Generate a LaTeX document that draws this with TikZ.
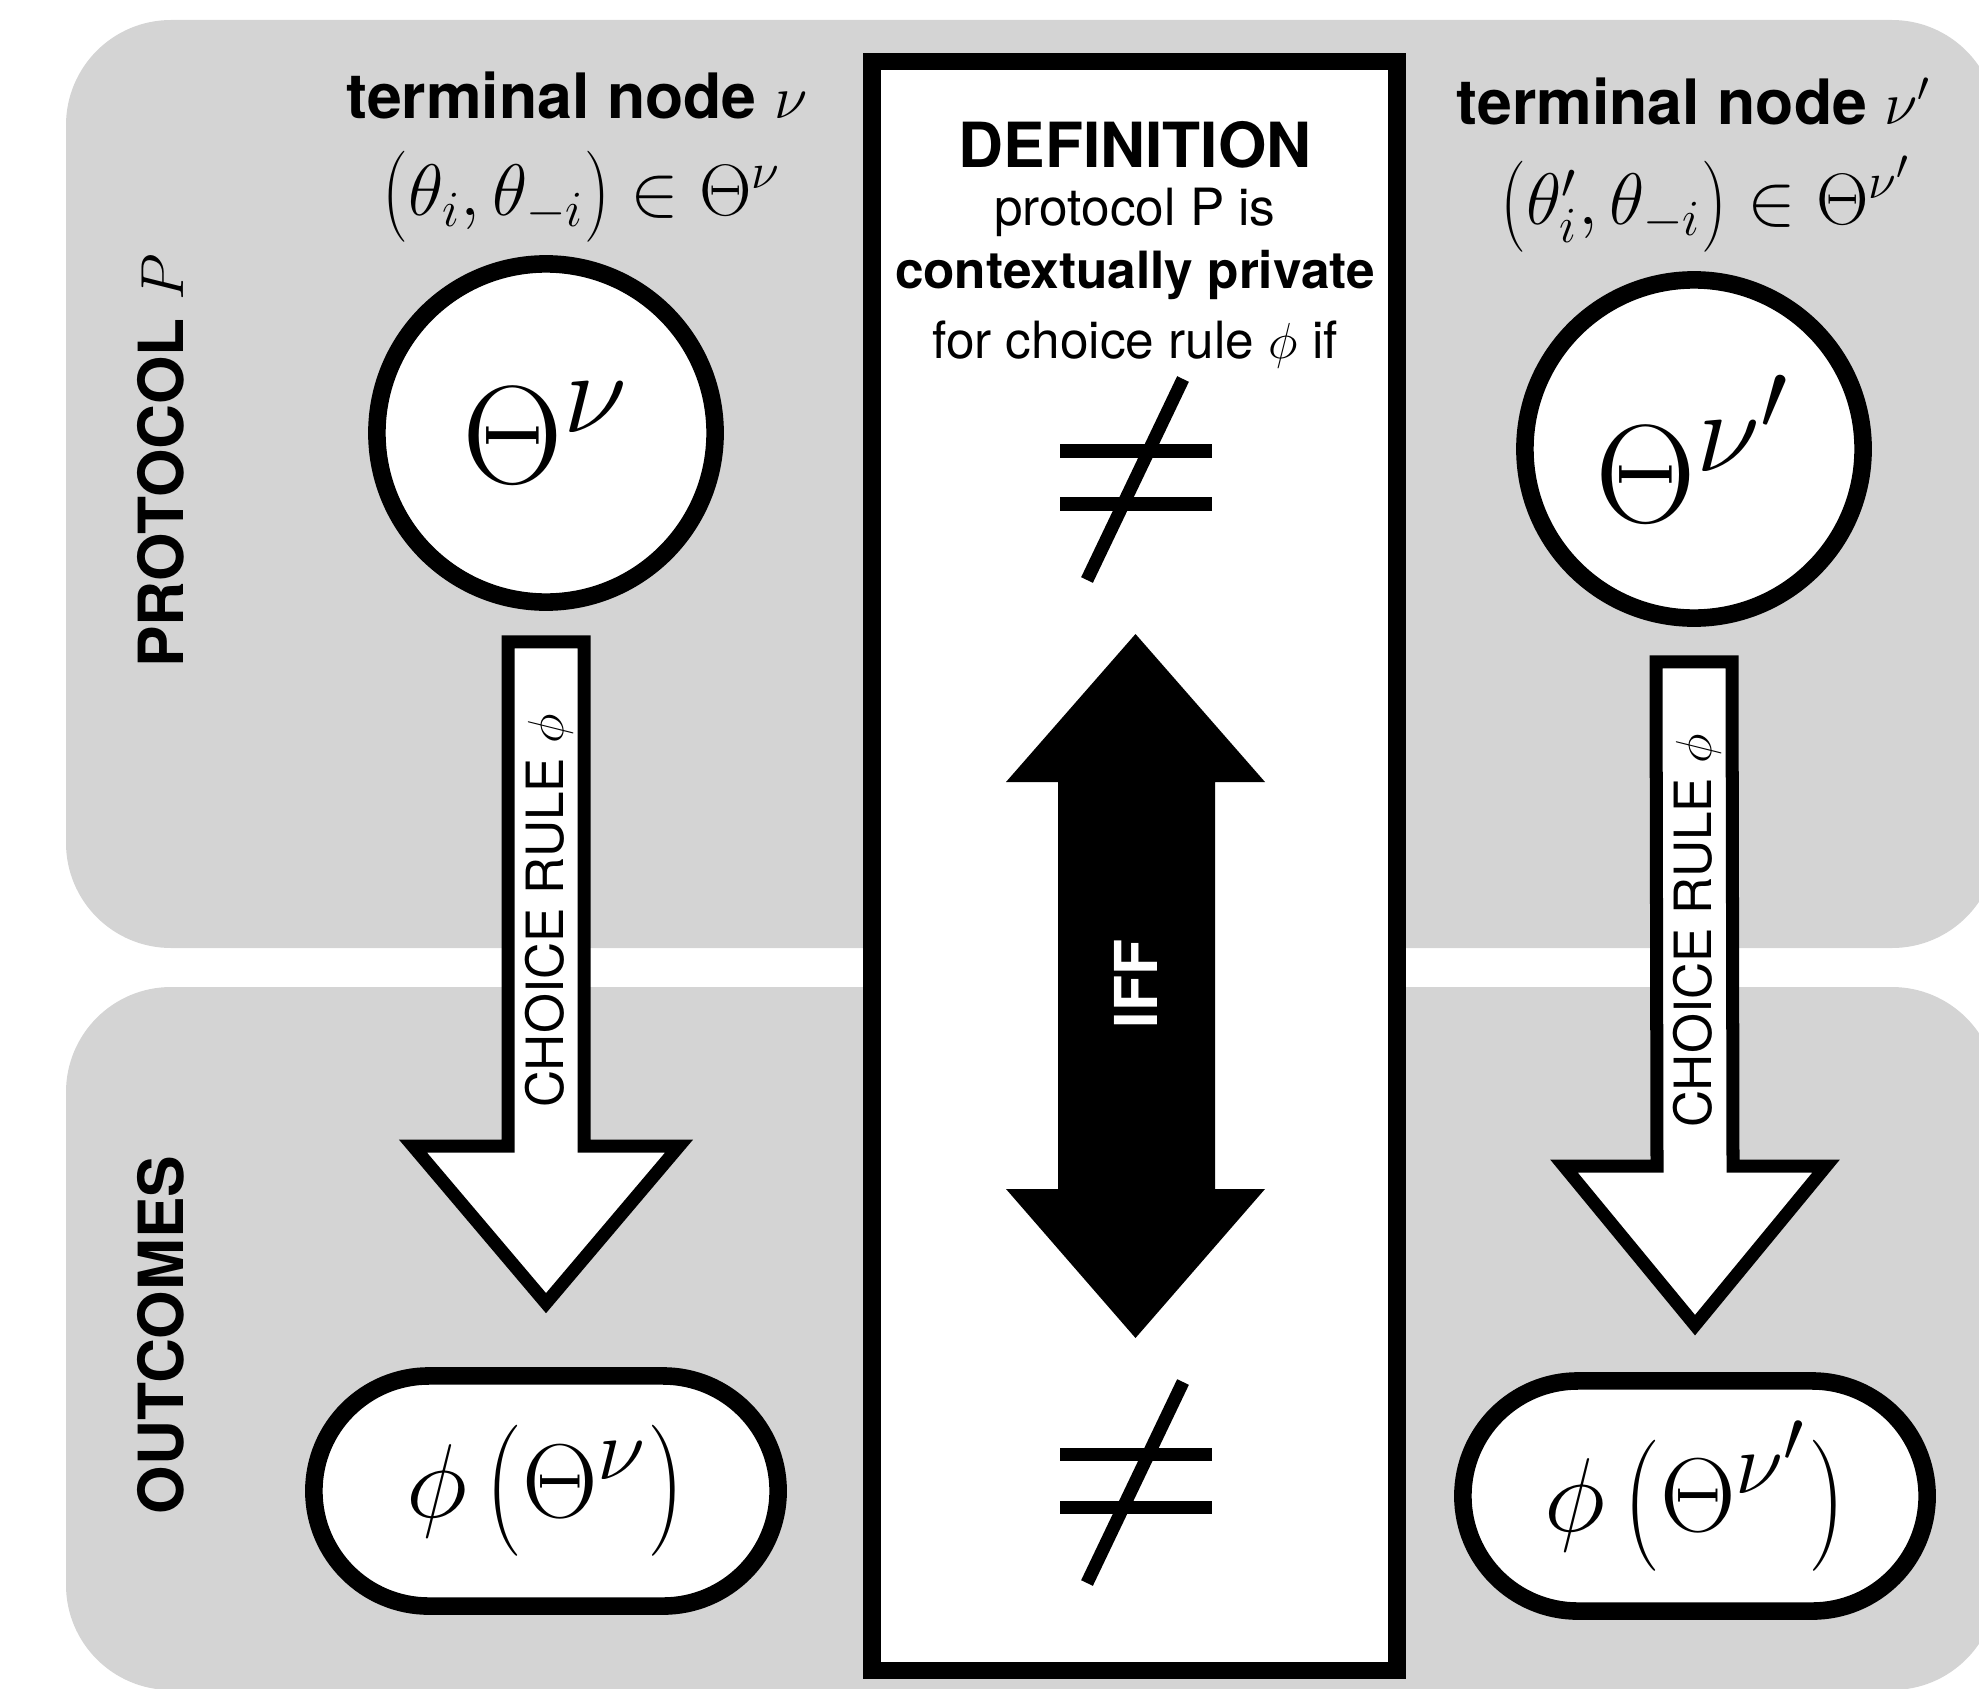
\documentclass[tikz,border=0pt]{standalone}
\usepackage{amsmath}
\usepackage{graphicx}
\usepackage{fontspec}
\setmainfont{TeX Gyre Heros}
\usetikzlibrary{shapes.misc,calc}
\definecolor{panel}{RGB}{212,212,212}
\newcommand{\tallL}{\mathopen{\vcenter{\hbox{\scalebox{1}[1.25]{$($}}}}}
\newcommand{\tallR}{\mathclose{\vcenter{\hbox{\scalebox{1}[1.25]{$)$}}}}}
\begin{document}
\begin{tikzpicture}[x=0.01cm,y=-0.01cm,
  panelbox/.style={fill=panel, rounded corners=1.05cm},
  ring/.style={circle, draw, fill=white, line width=5pt, minimum size=3.38cm, inner sep=0pt},
  pill/.style={rounded rectangle, draw, fill=white, line width=5pt, minimum width=4.64cm, minimum height=2.3cm, inner sep=0pt},
  blockarrow/.style={draw, fill=white, line width=3.7pt, line join=miter},
  neqline/.style={line width=3.7pt},
  defbox/.style={draw, fill=white, line width=5.1pt, minimum width=5.25cm, minimum height=16.08cm, inner sep=0pt},
  headlbl/.style={font=\fontsize{17.8}{21}\selectfont\bfseries, inner sep=0pt},
  mathlbl/.style={font=\fontsize{20.74}{25}\selectfont, inner sep=0pt},
  sidelbl/.style={font=\fontsize{17.7}{21}\selectfont\bfseries, rotate=90, inner sep=0pt},
  shaftlbl/.style={font=\fontsize{14.6}{17}\selectfont, rotate=90, inner sep=0pt},
  bodylbl/.style={font=\fontsize{14.6}{17}\selectfont, inner sep=0pt},
  bigmath/.style={font=\fontsize{24.88}{30}\selectfont}
]
\useasboundingbox (0,0) rectangle (1979,1688);
% panels
\fill[panelbox] (66,20) rectangle (1997,948);
\fill[panelbox] (66,987) rectangle (1997,1690);
% side labels
\node[sidelbl] (lprot) at (161,461) {PROTOCOL $P$};
\node[sidelbl] (lout) at (161,1335) {OUTCOMES};
% definition box
\node[defbox] (box) at (1134.5,866) {};
\node[font=\fontsize{17.7}{21}\selectfont\bfseries, inner sep=0pt] (defn) at (1135,145) {DEFINITION};
\node[bodylbl] (d1) at (1135,212) {protocol P is};
\node[bodylbl, font=\fontsize{14.6}{17}\selectfont\bfseries] (d2) at (1135,275) {contextually private};
\node[bodylbl] (d3) at (1135,345) {for choice rule $\phi$ if};
% not-equal signs
\coordinate (ne1) at (1136,477);
\coordinate (ne2) at (1136,1480);
\foreach \c in {ne1,ne2}{
  \draw[neqline] ($(\c)+(-76,-26)$) -- ($(\c)+(76,-26)$);
  \draw[neqline] ($(\c)+(-76,27)$) -- ($(\c)+(76,27)$);
  \draw[neqline] ($(\c)+(47,-98)$) -- ($(\c)+(-49,103)$);
}
% double arrow
\fill (1135.5,634) -- (1265,782) -- (1215,782) -- (1215,1189) -- (1265,1189)
  -- (1135.5,1338) -- (1006,1189) -- (1058,1189) -- (1058,782) -- (1006,782) -- cycle;
\node[font=\fontsize{16.8}{20}\selectfont\bfseries, text=white, rotate=90, inner sep=0pt] (iff) at (1136,984) {IFF};
% left column
\node[headlbl] (tL) at (577,95) {terminal node $\nu$};
\node[mathlbl] (mL) at (582,197) {$\tallL\theta_i,\theta_{-i}\tallR\in\Theta^{\nu}$};
\node[ring, bigmath] (cL) at (546,433) {\scalebox{1.6}{$\Theta^{\nu}$}};
\node[pill, bigmath] (oL) at (546,1491) {\scalebox{1.2}{$\phi\,\tallL\Theta^{\nu}\tallR$}};
\path (cL.south) ++(0,31) coordinate (aLs);
\path (oL.north) ++(0,-64) coordinate (aLt);
\draw[blockarrow] ($(aLs)+(-38,0)$) -- ($(aLs)+(38,0)$) -- ($(aLt)+(38,-157)$)
  -- ($(aLt)+(133,-157)$) -- (aLt) -- ($(aLt)+(-133,-157)$) -- ($(aLt)+(-38,-157)$) -- cycle;
\node[shaftlbl] (sL) at (549,911) {CHOICE RULE $\phi$};
% right column
\node[headlbl] (tR) at (1694,101) {terminal node $\nu'$};
\node[mathlbl] (mR) at (1706,204) {$\tallL\theta'_i,\theta_{-i}\tallR\in\Theta^{\nu'}$};
\node[ring, bigmath] (cR) at (1694,449) {\scalebox{1.6}{$\Theta^{\nu'}$}};
\node[pill, bigmath] (oR) at (1695,1496) {\scalebox{1.2}{$\phi\,\tallL\Theta^{\nu'}\tallR$}};
\path (cR.south) ++(0,35) coordinate (aRs);
\path (oR.north) ++(0,-47) coordinate (aRt);
\draw[blockarrow] ($(aRs)+(-38,0)$) -- ($(aRs)+(38,0)$) -- ($(aRt)+(38,-159)$)
  -- ($(aRt)+(131,-159)$) -- (aRt) -- ($(aRt)+(-131,-159)$) -- ($(aRt)+(-38,-159)$) -- cycle;
\node[shaftlbl] (sR) at (1697,931) {CHOICE RULE $\phi$};
\end{tikzpicture}
\end{document}
